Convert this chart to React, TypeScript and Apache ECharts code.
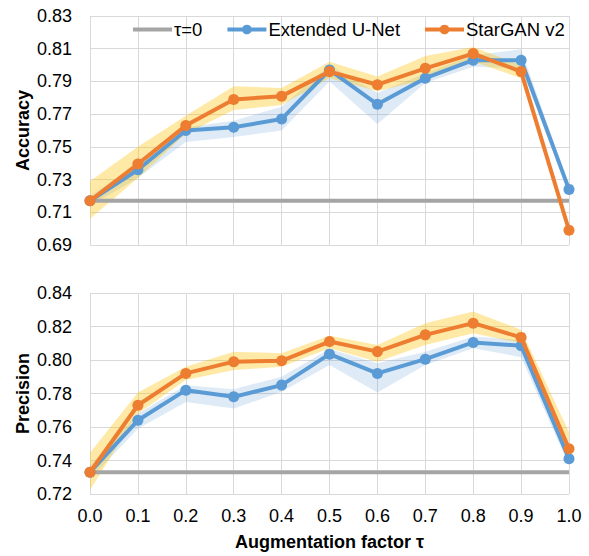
import React, { useEffect, useRef } from "react";
import * as echarts from "echarts";

const categories = ["0.0", "0.1", "0.2", "0.3", "0.4", "0.5", "0.6", "0.7", "0.8", "0.9", "1.0"];

const accBaseline = 0.717;
const accUnet = [0.717, 0.736, 0.760, 0.762, 0.767, 0.797, 0.776, 0.792, 0.803, 0.803, 0.724];
const accUnetLow = [0.714, 0.731, 0.753, 0.756, 0.760, 0.790, 0.764, 0.789, 0.799, 0.798, 0.722];
const accUnetHigh = [0.720, 0.740, 0.762, 0.766, 0.7745, 0.800, 0.783, 0.795, 0.806, 0.8096, 0.726];
const accStar = [0.717, 0.7395, 0.763, 0.779, 0.781, 0.796, 0.788, 0.798, 0.807, 0.796, 0.699];
const accStarLow = [0.706, 0.731, 0.758, 0.7725, 0.7756, 0.792, 0.784, 0.791, 0.802, 0.792, 0.697];
const accStarHigh = [0.729, 0.750, 0.769, 0.787, 0.786, 0.802, 0.793, 0.8055, 0.811, 0.800, 0.701];

const precBaseline = 0.733;
const precUnet = [0.733, 0.764, 0.782, 0.778, 0.785, 0.8035, 0.792, 0.8005, 0.8105, 0.8085, 0.741];
const precUnetLow = [0.729, 0.759, 0.775, 0.771, 0.781, 0.797, 0.7806, 0.797, 0.807, 0.8017, 0.737];
const precUnetHigh = [0.737, 0.768, 0.785, 0.7826, 0.790, 0.8065, 0.798, 0.805, 0.814, 0.812, 0.745];
const precStar = [0.733, 0.773, 0.792, 0.799, 0.7995, 0.811, 0.805, 0.815, 0.822, 0.8135, 0.747];
const precStarLow = [0.7224, 0.768, 0.788, 0.794, 0.796, 0.807, 0.799, 0.809, 0.816, 0.810, 0.742];
const precStarHigh = [0.7447, 0.7806, 0.796, 0.805, 0.804, 0.8145, 0.809, 0.822, 0.829, 0.818, 0.757];

const accTicks = { min: 0.69, max: 0.83, step: 0.02 };
const precTicks = { min: 0.72, max: 0.84, step: 0.02 };

const NAME_BASE = "τ=0";
const NAME_UNET = "Extended U-Net";
const NAME_STAR = "StarGAN v2";

const BLUE = "#5B9BD5";
const ORANGE = "#ED7D31";
const GRAY = "#A5A5A5";
const GRID = "#D9D9D9";
const FONT = "'Liberation Sans', Arial, sans-serif";

export default function App() {
  const ref = useRef<HTMLDivElement>(null);

  useEffect(() => {
    document.body.style.margin = "0";
    if (!ref.current) return;
    const chart = echarts.init(ref.current, undefined, { renderer: "svg" });

    const shift = (arr: number[], base: number) => arr.map((v) => +(v - base).toFixed(5));
    const diff = (hi: number[], lo: number[]) => hi.map((v, i) => +(v - lo[i]).toFixed(5));

    const makeSeries = (
      idx: number,
      base: number,
      baseline: number,
      unet: number[],
      unetLo: number[],
      unetHi: number[],
      star: number[],
      starLo: number[],
      starHi: number[]
    ) => {
      const common = { xAxisIndex: idx, yAxisIndex: idx, type: "line" as const };
      const band = (name: string, lo: number[], hi: number[], color: string) => [
        {
          ...common,
          name: name + "-lo-" + idx,
          stack: "band-" + name + idx,
          data: shift(lo, base),
          symbol: "none",
          lineStyle: { opacity: 0 },
          silent: true,
          z: 1,
        },
        {
          ...common,
          name: name + "-hi-" + idx,
          stack: "band-" + name + idx,
          data: diff(hi, lo),
          symbol: "none",
          lineStyle: { opacity: 0 },
          areaStyle: { color, opacity: 1 },
          silent: true,
          z: 1,
        },
      ];
      return [
        ...band("unet", unetLo, unetHi, "rgba(91,155,213,0.2)"),
        ...band("star", starLo, starHi, "rgba(255,192,0,0.35)"),
        {
          ...common,
          name: NAME_BASE,
          data: shift(categories.map(() => baseline), base),
          symbol: "none",
          lineStyle: { color: GRAY, width: 4 },
          itemStyle: { color: GRAY },
          z: 2,
        },
        {
          ...common,
          name: NAME_UNET,
          data: shift(unet, base),
          symbol: "circle",
          symbolSize: 11,
          lineStyle: { color: BLUE, width: 4 },
          itemStyle: { color: BLUE },
          z: 3,
        },
        {
          ...common,
          name: NAME_STAR,
          data: shift(star, base),
          symbol: "circle",
          symbolSize: 11,
          lineStyle: { color: ORANGE, width: 4 },
          itemStyle: { color: ORANGE },
          z: 4,
        },
      ];
    };

    const yAxis = (ticks: { min: number; max: number; step: number }, name: string) => ({
      type: "value" as const,
      gridIndex: name === "Accuracy" ? 0 : 1,
      min: 0,
      max: +(ticks.max - ticks.min).toFixed(5),
      interval: ticks.step,
      name,
      nameLocation: "middle" as const,
      nameGap: 58,
      nameMoveOverlap: false,
      nameTextStyle: { fontFamily: FONT, fontSize: 18, fontWeight: "bold", color: "#000" },
      axisLine: { show: false },
      axisTick: { show: false },
      axisLabel: {
        fontFamily: FONT,
        fontSize: 18,
        color: "#000",
        margin: 18,
        formatter: (v: number) => (v + ticks.min).toFixed(2),
      },
      splitLine: { show: true, lineStyle: { color: GRID, width: 1 } },
    });

    const xAxis = (idx: number) => ({
      type: "category" as const,
      gridIndex: idx,
      data: categories,
      boundaryGap: false,
      axisLine: { show: false },
      axisTick: { show: false },
      axisLabel: {
        show: idx === 1,
        fontFamily: FONT,
        fontSize: 18,
        color: "#000",
        margin: 13,
      },
      splitLine: { show: true, lineStyle: { color: GRID, width: 1 } },
      name: idx === 1 ? "Augmentation factor τ" : "",
      nameLocation: "middle" as const,
      nameGap: 39,
      nameMoveOverlap: false,
      nameTextStyle: { fontFamily: FONT, fontSize: 18, fontWeight: "bold", color: "#000" },
    });

    chart.setOption({
      animation: false,
      backgroundColor: "#fff",
      textStyle: { fontFamily: FONT },
      legend: {
        data: [
          { name: NAME_BASE, itemStyle: { opacity: 0 }, lineStyle: { width: 4 } },
          { name: NAME_UNET, lineStyle: { width: 4 } },
          { name: NAME_STAR, lineStyle: { width: 4 } },
        ],
        left: 126,
        top: 15,
        itemWidth: 39,
        itemHeight: 12,
        itemGap: 23,
        textStyle: { fontFamily: FONT, fontSize: 18.5, color: "#000", padding: [0, 0, 0, -3] },
      },
      grid: [
        { left: 90, right: 20, top: 16, height: 229 },
        { left: 90, right: 20, top: 293, height: 201 },
      ],
      xAxis: [xAxis(0), xAxis(1)],
      yAxis: [yAxis(accTicks, "Accuracy"), yAxis(precTicks, "Precision")],
      series: [
        ...makeSeries(0, accTicks.min, accBaseline, accUnet, accUnetLow, accUnetHigh, accStar, accStarLow, accStarHigh),
        ...makeSeries(1, precTicks.min, precBaseline, precUnet, precUnetLow, precUnetHigh, precStar, precStarLow, precStarHigh),
      ],
    });

    return () => chart.dispose();
  }, []);

  return <div ref={ref} style={{ width: 589, height: 556 }} />;
}
